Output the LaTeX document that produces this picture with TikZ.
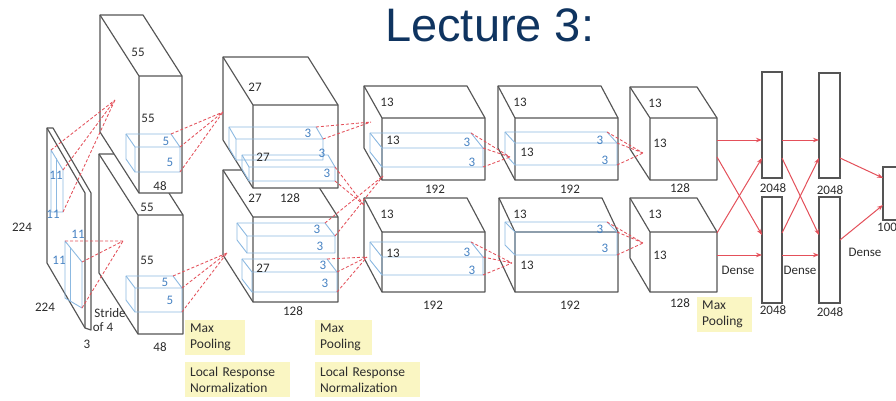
\documentclass[tikz,border=0pt]{standalone}
\usepackage{fontspec}
\setmainfont{Carlito}
\newfontfamily\titlefont{Liberation Sans}
\usetikzlibrary{calc,arrows.meta}
\definecolor{edgegray}{RGB}{85,85,85}
\definecolor{kblue}{RGB}{140,185,225}
\definecolor{kbluetxt}{RGB}{70,130,195}
\definecolor{rred}{RGB}{228,80,90}
\definecolor{txtgray}{RGB}{45,45,45}
\definecolor{ybg}{RGB}{250,246,195}
\definecolor{titleblue}{RGB}{15,52,96}

% cuboid: name, x1, y1, x2, y2 (front face), dx, dy (back offset), style
\newcommand{\mycube}[8]{%
  \coordinate (#1-ftl) at (#2,#3);
  \coordinate (#1-ftr) at (#4,#3);
  \coordinate (#1-fbr) at (#4,#5);
  \coordinate (#1-fbl) at (#2,#5);
  \coordinate (#1-btl) at ({#2+#6},{#3+#7});
  \coordinate (#1-btr) at ({#4+#6},{#3+#7});
  \coordinate (#1-bbl) at ({#2+#6},{#5+#7});
  \path[#8] (#1-btl) -- (#1-btr) -- (#1-ftr) -- (#1-fbr) -- (#1-fbl) -- (#1-bbl) -- cycle;
  \draw[#8,fill=none] (#1-btl) -- (#1-ftl) -- (#1-ftr) (#1-ftl) -- (#1-fbl);
}
\newcommand{\lab}[5][lbl]{\node[#1] (#2) at (#3,#4) {#5};}

\begin{document}
\begin{tikzpicture}[x=1pt,y=-1pt,
  cube/.style={draw=edgegray,line width=1.15pt,line join=round,fill=white},
  kern/.style={draw=kblue,line width=0.9pt,line join=round},
  rdash/.style={draw=rred,line width=0.85pt,dash pattern=on 3pt off 2pt},
  rarrow/.style={draw=rred,line width=1pt,-{Stealth[length=6pt,width=4.5pt]}},
  lbl/.style={font=\fontsize{13}{15}\selectfont,text=txtgray,inner sep=0pt},
  blbl/.style={lbl,text=kbluetxt},
  dense/.style={draw=edgegray,line width=1.15pt,fill=white,inner sep=0pt},
  ybox/.style={fill=ybg,anchor=north west,align=left,inner xsep=5pt,inner ysep=2pt,
    font=\fontsize{13.5}{16}\selectfont,text=txtgray}]
\useasboundingbox (0,0) rectangle (896,401);
\fill[white] (0,0) rectangle (896,401);
\begin{scope}
\clip (0,0) rectangle (896,401);

% title
\node[anchor=base west,inner sep=0pt,text=titleblue,font=\titlefont\fontsize{47}{50}\selectfont] (title) at (385,42) {Lecture 3:};

% input slab
\coordinate (inA) at (47,128); \coordinate (inB) at (85,193);
\coordinate (inC) at (85,328); \coordinate (inD) at (47,263);
\coordinate (inA2) at (53,128); \coordinate (inB2) at (91,193);
\coordinate (inC2) at (91,330);
\filldraw[cube] (inA) -- (inA2) -- (inB2) -- (inC2) -- (inC) -- (inD) -- cycle;
\draw[cube,fill=none] (inA) -- (inB) -- (inC);

% conv cubes (lower first)
\mycube{c1l}{138}{215}{183}{334}{-39}{-61}{cube}
\mycube{c1u}{139}{76}{182}{193}{-39}{-61}{cube}
\mycube{c2l}{253}{217}{338}{302}{-30}{-47}{cube}
\mycube{c2u}{253}{105}{338}{188}{-30}{-48}{cube}
\mycube{c3l}{382}{232}{485}{292}{-18}{-34}{cube}
\mycube{c3u}{382}{118}{485}{180}{-18}{-32}{cube}
\mycube{c4l}{515}{232}{618}{292}{-16}{-34}{cube}
\mycube{c4u}{515}{118}{618}{180}{-17}{-32}{cube}
\mycube{c5l}{650}{232}{717}{292}{-20}{-34}{cube}
\mycube{c5u}{650}{118}{717}{180}{-20}{-31}{cube}

% dense layers
\node[dense,minimum width=20pt,minimum height=106pt] (d1u) at (772,125) {};
\node[dense,minimum width=20pt,minimum height=106pt] (d1l) at (772,250) {};
\node[dense,minimum width=21pt,minimum height=105pt] (d2u) at (829.5,125.5) {};
\node[dense,minimum width=21pt,minimum height=106pt] (d2l) at (829.5,250) {};
\node[dense,minimum width=24pt,minimum height=53pt] (outl) at (895,193.5) {};

% input kernels
\coordinate (i1a) at (51,150); \coordinate (i1b) at (63,170);
\coordinate (i1c) at (63,212); \coordinate (i1d) at (51,212);
\draw[kern] (i1a) -- (i1b) -- (i1c) -- (i1d) -- cycle;
\draw[kern] (56,158) -- (56,212);
\coordinate (i2a) at (65,241); \coordinate (i2b) at (82,262);
\coordinate (i2c) at (82,308); \coordinate (i2d) at (65,298);
\draw[kern] (i2a) -- (i2b) -- (i2c) -- (i2d) -- cycle;
\draw[kern] (70,247) -- (70,301);

% conv kernels
\mycube{k1u}{135}{147}{180}{172}{-9}{-13}{kern}
\mycube{k1l}{135}{288}{182}{312}{-9}{-12}{kern}
\mycube{k2u1}{236}{139}{323}{160}{-7}{-12}{kern}
\mycube{k2u2}{249}{167}{335}{181}{-7}{-12}{kern}
\mycube{k2l1}{247}{236}{335}{253}{-10}{-13}{kern}
\mycube{k2l2}{252}{272}{337}{292}{-10}{-13}{kern}
\mycube{k3u}{382}{148}{483}{167}{-12}{-15}{kern}
\mycube{k3l}{382}{257}{483}{275}{-12}{-15}{kern}
\mycube{k4u}{515}{143}{617}{165}{-10}{-11}{kern}
\mycube{k4l}{515}{232}{617}{255}{-10}{-10}{kern}

% dashed connection targets
\coordinate (P1) at (115,100);
\coordinate (P2) at (123,241);
\coordinate (P3) at (223,112);
\coordinate (P4) at (227,253);
\coordinate (P5) at (371,122);
\coordinate (P6) at (364,205);
\coordinate (P7) at (383,176);
\coordinate (P8) at (367,257);
\coordinate (P9) at (510,157);
\coordinate (P10) at (512,263);
\coordinate (P11) at (643,153);
\coordinate (P12) at (643,243);

\draw[rdash] (i1a) -- (P1) (i1b) -- (P1) (i1c) -- (P1);
\draw[rdash] (i2a) -- (P2) (i2b) -- (P2) (i2c) -- (P2);
\draw[rdash] (k1u-btr) -- (P3) (k1u-ftr) -- (P3) (k1u-fbr) -- (P3);
\draw[rdash] (k1l-btr) -- (P4) (k1l-ftr) -- (P4) (k1l-fbr) -- (P4);
\draw[rdash] (k2u1-btr) -- (P5) (k2u1-ftr) -- (P5);
\draw[rdash] (k2u2-ftr) -- (P6) (k2u2-fbr) -- (P6);
\draw[rdash] (k2l1-btr) -- (P7) (k2l1-ftr) -- (P7);
\draw[rdash] (k2l2-btr) -- (P8) (k2l2-ftr) -- (P8) (k2l2-fbr) -- (P8);
\draw[rdash] (k3u-btr) -- (P9) (k3u-ftr) -- (P9) (k3u-fbr) -- (P9);
\draw[rdash] (k3l-btr) -- (P10) (k3l-ftr) -- (P10) (k3l-fbr) -- (P10);
\draw[rdash] (k4u-btr) -- (P11) (k4u-ftr) -- (P11) (k4u-fbr) -- (P11);
\draw[rdash] (k4l-btr) -- (P12) (k4l-ftr) -- (P12) (k4l-fbr) -- (P12);

% dense arrows
\coordinate (s1) at (717,140); \coordinate (s2) at (717,157);
\coordinate (s3) at (717,233); \coordinate (s4) at (717,255);
\coordinate (e1) at (762,140); \coordinate (e2) at (762,235);
\coordinate (e3) at (762,158); \coordinate (e4) at (762,255);
\draw[rarrow] (s1) -- (e1);
\draw[rarrow] (s2) -- (e2);
\draw[rarrow] (s3) -- (e3);
\draw[rarrow] (s4) -- (e4);
\coordinate (t1) at (782,140); \coordinate (t2) at (782,158);
\coordinate (t3) at (782,233); \coordinate (t4) at (782,255);
\coordinate (u1) at (819,140); \coordinate (u2) at (819,235);
\coordinate (u3) at (819,158); \coordinate (u4) at (819,255);
\draw[rarrow] (t1) -- (u1);
\draw[rarrow] (t2) -- (u2);
\draw[rarrow] (t3) -- (u3);
\draw[rarrow] (t4) -- (u4);
\coordinate (v1) at (840,158); \coordinate (v2) at (840,240);
\coordinate (w1) at (883,178); \coordinate (w2) at (883,205);
\draw[rarrow] (v1) -- (w1);
\draw[rarrow] (v2) -- (w2);

% black labels
\lab{a1}{22}{227}{224}
\lab{a2}{45}{307}{224}
\lab{a3}{87}{344}{3}
\lab{a4}{110}{313}{Stride}
\lab{a5}{103}{327}{of 4}
\lab{b1}{138}{52}{55}
\lab{b2}{148}{118}{55}
\lab{b3}{160}{186}{48}
\lab{b4}{147}{207}{55}
\lab{b5}{147}{260}{55}
\lab{b6}{160}{347}{48}
\lab{c1}{255}{87}{27}
\lab{c2}{263}{157}{27}
\lab{c3}{255}{198}{27}
\lab{c4}{290}{198}{128}
\lab{c5}{263}{268}{27}
\lab{c6}{293}{311}{128}
\lab{d1}{387}{102}{13}
\lab{d2}{393}{140}{13}
\lab{d3}{435}{189}{192}
\lab{d4}{387}{214}{13}
\lab{d5}{393}{253}{13}
\lab{d6}{433}{305}{192}
\lab{f1}{520}{102}{13}
\lab{f2}{527}{152}{13}
\lab{f3}{570}{189}{192}
\lab{f4}{520}{214}{13}
\lab{f5}{527}{265}{13}
\lab{f6}{570}{305}{192}
\lab{g1}{655}{103}{13}
\lab{g2}{660}{143}{13}
\lab{g3}{680}{188}{128}
\lab{g4}{655}{214}{13}
\lab{g5}{660}{255}{13}
\lab{g6}{680}{303}{128}
\lab{h1}{773}{188}{2048}
\lab{h2}{773}{310}{2048}
\lab{h3}{830}{190}{2048}
\lab{h4}{830}{312}{2048}
\node[lbl,anchor=west] (h5) at (877,227) {100};
\lab{h6}{738}{270}{Dense}
\lab{h7}{800}{270}{Dense}
\lab{h8}{865}{252}{Dense}

% blue labels
\lab[blbl]{m1}{56}{175}{11}
\lab[blbl]{m2}{53}{214}{11}
\lab[blbl]{m3}{78}{234}{11}
\lab[blbl]{m4}{59}{260}{11}
\lab[blbl]{n1}{166}{141}{5}
\lab[blbl]{n2}{170}{162}{5}
\lab[blbl]{n3}{165}{282}{5}
\lab[blbl]{n4}{170}{300}{5}
\lab[blbl]{o1}{308}{133}{3}
\lab[blbl]{o2}{322}{153}{3}
\lab[blbl]{o3}{327}{173}{3}
\lab[blbl]{o4}{317}{229}{3}
\lab[blbl]{o5}{320}{246}{3}
\lab[blbl]{o6}{323}{265}{3}
\lab[blbl]{o7}{325}{283}{3}
\lab[blbl]{q1}{467}{142}{3}
\lab[blbl]{q2}{472}{162}{3}
\lab[blbl]{q3}{467}{252}{3}
\lab[blbl]{q4}{472}{270}{3}
\lab[blbl]{r1}{600}{140}{3}
\lab[blbl]{r2}{605}{160}{3}
\lab[blbl]{r3}{600}{229}{3}
\lab[blbl]{r4}{605}{248}{3}

% yellow notes
\node[ybox,text width=50pt,minimum height=35pt] (y1) at (185,320) {Max\\Pooling};
\node[ybox,text width=95pt,minimum height=35pt] (y2) at (185,362) {Local Response\\Normalization};
\node[ybox,text width=47pt,minimum height=35pt] (y3) at (315,320) {Max\\Pooling};
\node[ybox,text width=95pt,minimum height=35pt] (y4) at (315,362) {Local Response\\Normalization};
\node[ybox,text width=45pt,minimum height=35pt] (y5) at (697,297) {Max\\Pooling};
\end{scope}
\end{tikzpicture}
\end{document}
